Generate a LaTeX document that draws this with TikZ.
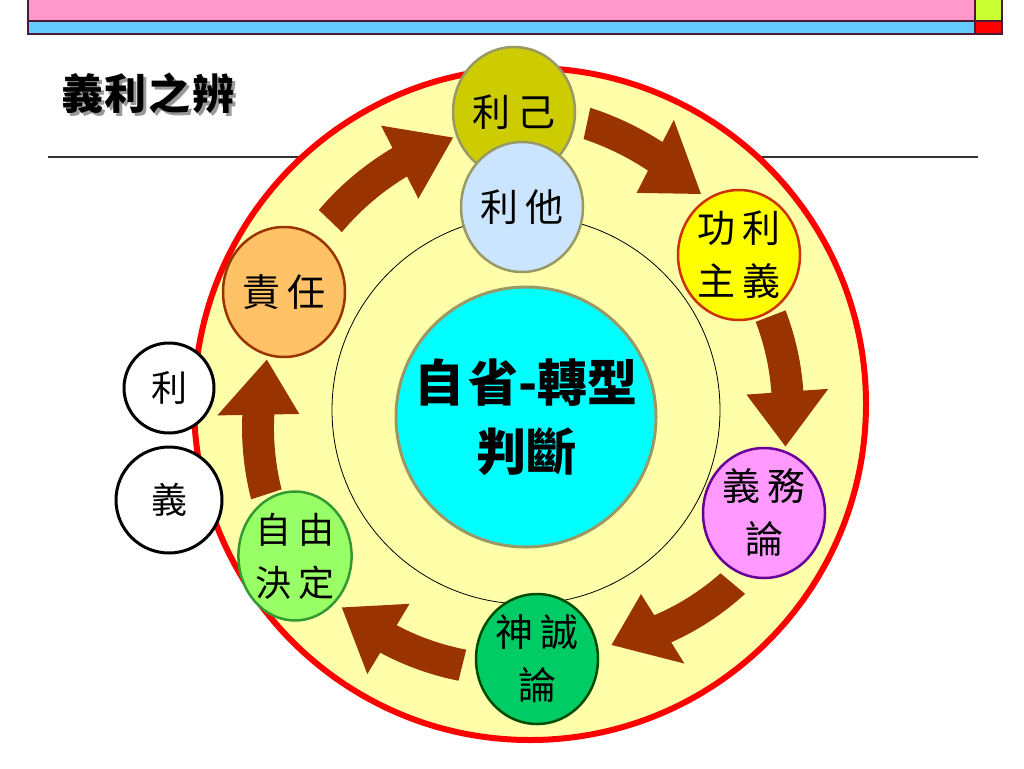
\documentclass[tikz,border=0pt]{standalone}
\usepackage{fontspec}
\newfontfamily\cjk{Noto Sans CJK TC}
\usetikzlibrary{shapes.geometric}
\definecolor{pinkbar}{HTML}{FF99CC}
\definecolor{bluebar}{HTML}{66CCFF}
\definecolor{greenbox}{HTML}{CCFF33}
\definecolor{redbox}{HTML}{FF0000}
\definecolor{bardark}{HTML}{4D1A33}
\definecolor{ringfill}{HTML}{FFFFAA}
\definecolor{ringred}{HTML}{FF0000}
\definecolor{arrowc}{HTML}{993300}
\definecolor{olivegray}{HTML}{999966}
\definecolor{corefill}{HTML}{00FFFF}
\definecolor{c1fill}{HTML}{CCCC00}
\definecolor{c2fill}{HTML}{CCE5FF}
\definecolor{c3fill}{HTML}{FFFF00}
\definecolor{c3draw}{HTML}{CC3300}
\definecolor{c4fill}{HTML}{FF99FF}
\definecolor{c4draw}{HTML}{660099}
\definecolor{c5fill}{HTML}{00CC66}
\definecolor{c5draw}{HTML}{004D00}
\definecolor{c6fill}{HTML}{99FF66}
\definecolor{c6draw}{HTML}{339933}
\definecolor{c7fill}{HTML}{FFC266}
\definecolor{c7draw}{HTML}{993300}
\definecolor{shadowgray}{HTML}{999999}
\newcommand{\blockarrow}[4]{%
  \pgfmathsetmacro{\hb}{#2-12}%
  \pgfmathsetmacro{\rhb}{#3+(#4-#3)*(\hb-#1)/(#2-#1)}%
  \fill[arrowc]
    plot[domain=0:1,samples=25] ({#1+(\hb-#1)*\x}:{#3+(\rhb-#3)*\x+16})
    -- ({\hb}:{\rhb+41}) -- ({#2}:{#4}) -- ({\hb}:{\rhb-41})
    -- plot[domain=0:1,samples=25] ({\hb-(\hb-#1)*\x}:{\rhb-(\rhb-#3)*\x-16})
    -- cycle;}
\tikzset{
  bub/.style={ellipse, line width=2.5pt, inner sep=0pt, minimum width=122pt,
    minimum height=130pt, align=center,
    font=\cjk\fontsize{38}{53}\selectfont},
  wbub/.style={circle, draw=black, fill=white, line width=3pt, inner sep=0pt,
    font=\cjk\fontsize{36}{40}\selectfont},
  bar/.style={draw=bardark, line width=1.2pt},
  ttl/.style={font=\cjk\bfseries\fontsize{42}{48}\selectfont}
}
\begin{document}
\begin{tikzpicture}[x=1pt,y=-1pt]
\useasboundingbox (0,0) rectangle (1024,768);
% top bars
\filldraw[bar, fill=pinkbar] (28,-3) rectangle (975,21);
\filldraw[bar, fill=bluebar] (28,21) rectangle (975,34);
\filldraw[bar, fill=greenbox] (975,-3) rectangle (1002,21);
\filldraw[bar, fill=redbox] (975,21) rectangle (1002,34);
% title with shadow (one text node)
\node[ttl] (title) at (148,95) {\rlap{\kern3pt\raisebox{-3pt}{\textcolor{shadowgray}{義\hspace{2pt}利\hspace{2pt}之\hspace{2pt}辨}}}義\hspace{2pt}利\hspace{2pt}之\hspace{2pt}辨};
% rule
\coordinate (l1) at (48,157);
\coordinate (l2) at (978,157);
\draw[line width=1.5pt, black!80] (l1) -- (l2);
% ring
\node[circle, draw=ringred, line width=6pt, fill=ringfill, minimum size=672pt, inner sep=0pt] (ring) at (530,404) {};
\node[circle, draw=black, line width=0.8pt, minimum size=388pt, inner sep=0pt] (inner) at (526,410) {};
\node[circle, draw=olivegray, line width=3pt, fill=corefill, minimum size=260pt, inner sep=0pt,
  align=center, font=\cjk\bfseries\fontsize{50}{69}\selectfont] (core) at (526,417) {自\hspace{4pt}省-轉型\\判斷};
% arrows
\coordinate (cen) at (526,410);
\begin{scope}[shift={(cen)}]
\blockarrow{224}{255}{272}{282}
\blockarrow{282}{309}{293}{278}
\blockarrow{-21}{8}{262}{262}
\blockarrow{40}{70}{270}{250}
\blockarrow{104}{133}{263}{270}
\blockarrow{162}{191}{273}{264}
\end{scope}
% bubbles
\node[bub, draw=olivegray, fill=c1fill] (liji) at (514,112) {利\hspace{8pt}己};
\node[bub, draw=olivegray, fill=c2fill] (lita) at (522,207) {利\hspace{8pt}他};
\node[bub, draw=c3draw, fill=c3fill] (gongli) at (739,255) {功\hspace{8pt}利\\主\hspace{8pt}義};
\node[bub, draw=c4draw, fill=c4fill] (yiwu) at (764,513) {義\hspace{8pt}務\\論};
\node[bub, draw=c5draw, fill=c5fill] (shencheng) at (537,659) {神\hspace{8pt}誠\\論};
\node[bub, draw=c6draw, fill=c6fill, minimum width=104pt, minimum height=129pt,
  font=\cjk\fontsize{36}{53}\selectfont] (ziyou) at (295,556) {自\hspace{8pt}由\\決\hspace{8pt}定};
\node[bub, draw=c7draw, fill=c7fill] (zeren) at (284,292) {責\hspace{8pt}任};
% side circles
\node[wbub, minimum size=90pt] (li) at (169,388) {利};
\node[wbub, minimum size=106pt] (yi) at (169,500) {義};
\end{tikzpicture}
\end{document}
